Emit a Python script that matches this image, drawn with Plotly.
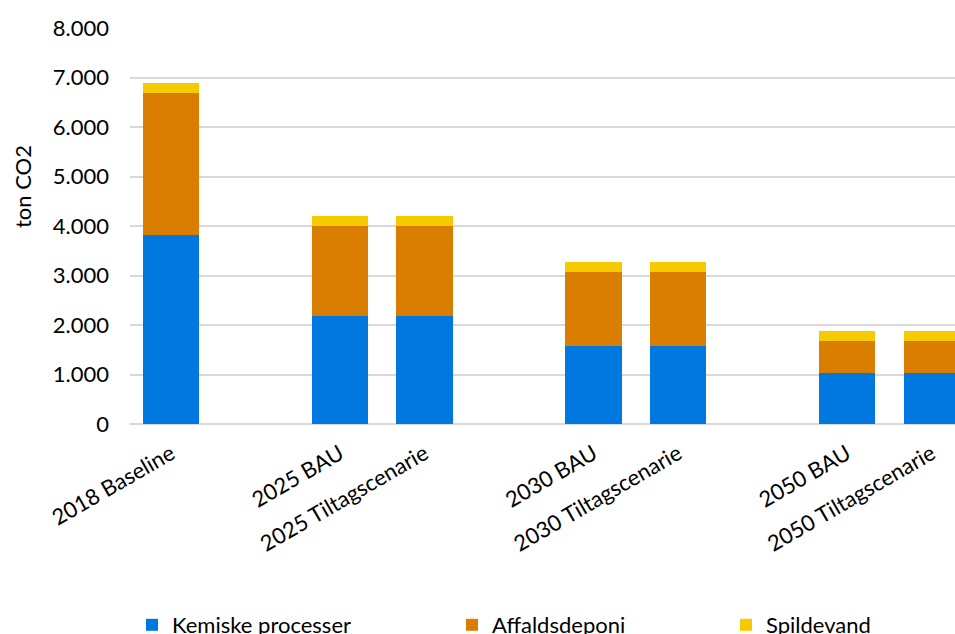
import plotly.graph_objects as go

# ---- data ----
axis_categories = ["2018 Baseline", " ", "2025 BAU", "2025 Tiltagscenarie", "  ",
                   "2030 BAU", "2030 Tiltagscenarie", "   ", "2050 BAU", "2050 Tiltagscenarie"]
scenarios = ["2018 Baseline", "2025 BAU", "2025 Tiltagscenarie",
             "2030 BAU", "2030 Tiltagscenarie", "2050 BAU", "2050 Tiltagscenarie"]
kemiske = [3820, 2180, 2180, 1580, 1580, 1035, 1035]
affald = [2870, 1830, 1830, 1495, 1495, 645, 645]
spilde = [190, 195, 195, 190, 190, 195, 195]

series_names = ["Kemiske processer", "Affaldsdeponi", "Spildevand"]
colors = ["#0078DF", "#D97E00", "#F5CB00"]

FONT = "Lato"
FS = 22
W, H = 955, 634
ML, MR, MT, MB = 130, 0, 28, 210
PW = W - ML - MR
PH = H - MT - MB

def px_x(p):
    return (p - ML) / PW

def px_y(p):
    return (H - MB - p) / PH

fig = go.Figure()
legend_ids = ["legend", "legend2", "legend3"]
for name, vals, col, lid in zip(series_names, [kemiske, affald, spilde], colors, legend_ids):
    fig.add_trace(go.Bar(
        x=scenarios, y=vals, name=name, marker=dict(color=col, line=dict(width=0)),
        width=0.663, legend=lid, showlegend=True,
    ))

legend_px = [132, 452, 726]
leg_common = dict(orientation="h", yanchor="top", xanchor="left",
                  font=dict(family=FONT, size=FS, color="#000000"),
                  bgcolor="rgba(0,0,0,0)", borderwidth=0, itemwidth=30)

fig.update_layout(
    width=W, height=H,
    showlegend=True,
    margin=dict(l=ML, r=MR, t=MT, b=MB, autoexpand=False),
    paper_bgcolor="white", plot_bgcolor="white",
    barmode="stack",
    separators=",.",
    font=dict(family=FONT, size=FS, color="#000000"),
    xaxis=dict(
        type="category", categoryorder="array", categoryarray=axis_categories,
        range=[-0.485, 9.278], tickangle=-30, showgrid=False, zeroline=False,
        showline=False, ticks="", ticklabelstandoff=12,
        tickfont=dict(family=FONT, size=FS, color="#000000"),
        automargin=False,
    ),
    yaxis=dict(
        range=[0, 8000], dtick=1000, tickformat=",d", showgrid=True,
        gridcolor="#d9d9d9", gridwidth=1.6, zeroline=True, zerolinecolor="#d9d9d9",
        zerolinewidth=1.6, showline=False, ticks="", ticklabelstandoff=20,
        tickfont=dict(family=FONT, size=FS, color="#000000"), automargin=False,
    ),
    legend=dict(x=px_x(legend_px[0]), y=px_y(604), **leg_common),
    legend2=dict(x=px_x(legend_px[1]), y=px_y(604), **leg_common),
    legend3=dict(x=px_x(legend_px[2]), y=px_y(604), **leg_common),
    annotations=[dict(
        text="ton CO2", xref="paper", yref="paper", x=px_x(22), y=px_y(186),
        xanchor="center", yanchor="middle", textangle=-90, showarrow=False,
        font=dict(family=FONT, size=FS, color="#000000"),
    )],
)

fig.write_html("out.html")
